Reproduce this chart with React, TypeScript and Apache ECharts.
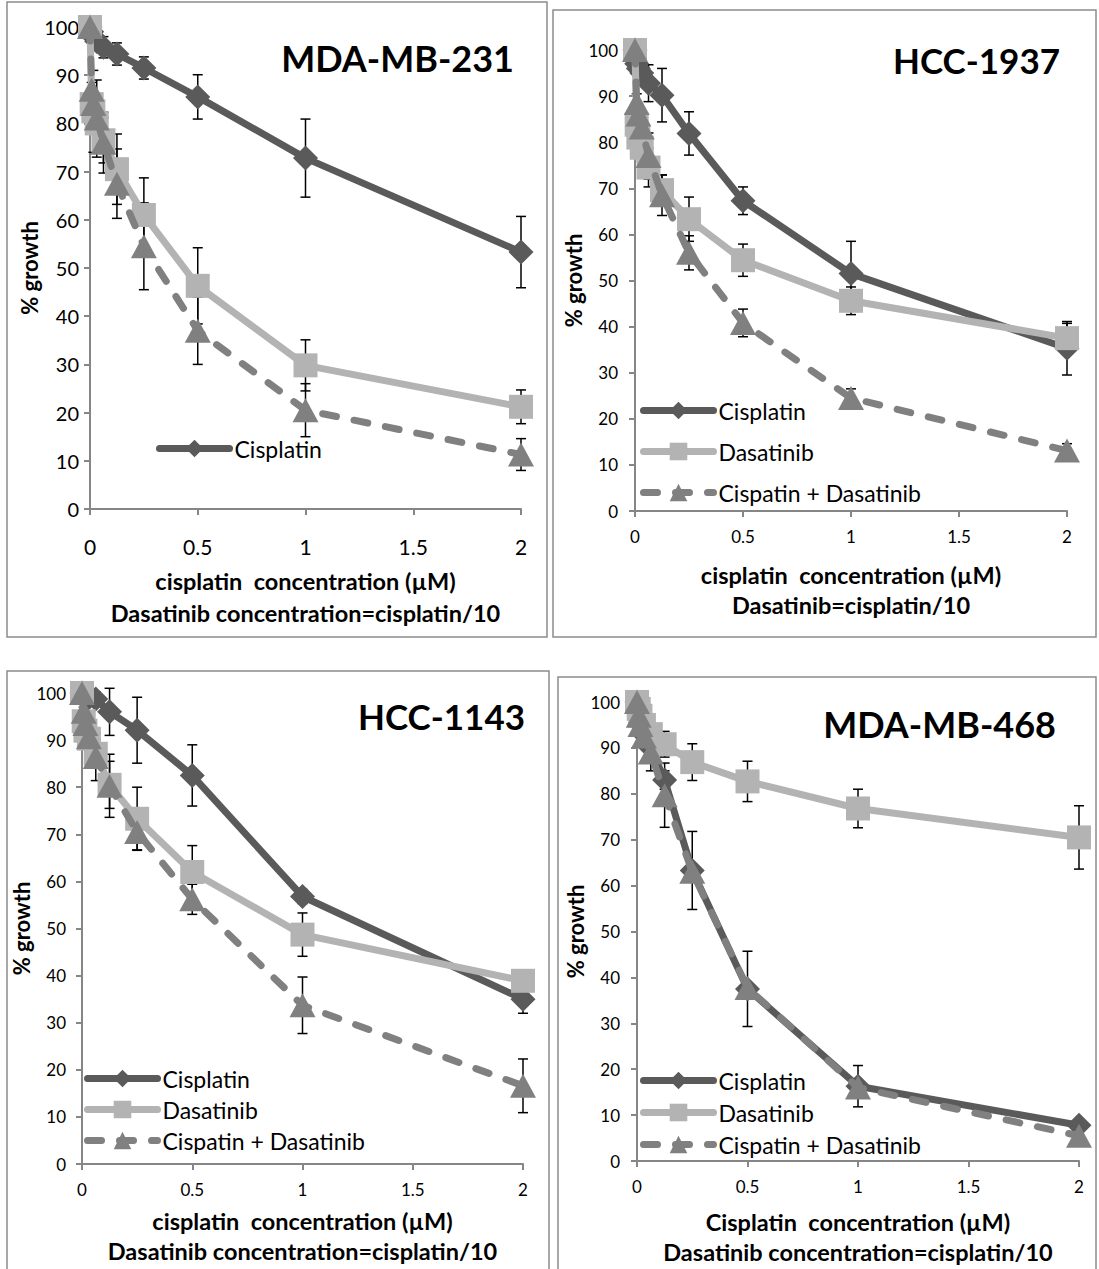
import React, { useEffect, useRef } from 'react';
import * as echarts from 'echarts';

// ---------- DATA ----------
const X = [0, 0.0078, 0.0156, 0.03125, 0.0625, 0.125, 0.25, 0.5, 1, 2];
const NAMES = ['Cisplatin', 'Dasatinib', 'Cispatin + Dasatinib'];
const TITLES = ['MDA-MB-231', 'HCC-1937', 'HCC-1143', 'MDA-MB-468'];

// MDA-MB-231
const mb231Cis = [100, 99, 98, 97, 95.8, 94.4, 91.5, 85.5, 72.8, 53.3];
const mb231CisErr = [0, 0.5, 1, 1.5, 2.2, 2.3, 2.3, 4.6, 8.1, 7.4];
const mb231Das = [100, 84, 82.5, 80, 76.5, 70.5, 61, 46.3, 29.8, 21.2];
const mb231DasErr = [0, 1.5, 8.5, 2, 4.7, 7.3, 7.7, 7.9, 5.3, 3.5];
const mb231Combo = [100, 87, 84, 81, 76, 67.5, 54.5, 37, 20.5, 11.3];
const mb231ComboErr = [0, 1.5, 2, 8, 6.3, 7.2, 9, 7, 5.5, 3.3];

// HCC-1937
const hcc1937Cis = [100, 97, 96, 95, 92.8, 90.2, 81.9, 67.3, 51.5, 35.3];
const hcc1937CisErr = [0, 1, 1.5, 2, 4, 5.8, 4.7, 3, 7, 5.8];
const hcc1937Das = [100, 83.8, 81, 78.8, 74.5, 69.6, 63.3, 54.4, 45.6, 37.5];
const hcc1937DasErr = [0, 2, 2, 3, 4.2, 3.3, 4.8, 3.5, 3, 3.2];
const hcc1937Combo = [100, 88.5, 86, 83.2, 77, 68.5, 56, 40.8, 24.5, 13.1];
const hcc1937ComboErr = [0, 2, 2, 3, 5, 4.4, 3.7, 3, 2, 1.5];

// HCC-1143
const hcc1143Cis = [100, 99.5, 99.2, 99, 98.7, 96, 92.1, 82.5, 56.8, 35];
const hcc1143CisErr = [0, 0.5, 0.5, 1, 1.5, 5, 7, 6.5, 1.5, 3];
const hcc1143Das = [100, 94, 92, 90.3, 87.1, 80.5, 73.3, 62, 48.7, 38.9];
const hcc1143DasErr = [0, 1, 1.5, 2, 3, 5, 6.7, 5.6, 4.6, 1.5];
const hcc1143Combo = [100, 96, 93.4, 90.6, 86.4, 80.3, 70.5, 56.2, 33.7, 16.6];
const hcc1143ComboErr = [0, 1, 2, 2.5, 5, 6.7, 3.8, 3.2, 6, 5.7];

// MDA-MB-468
const mb468Cis = [100, 97.5, 95.5, 93, 90, 83, 63.3, 37.5, 16.3, 7.8];
const mb468CisErr = [0, 1, 1, 1.5, 2, 2, 8.5, 8.2, 4.5, 1];
const mb468Das = [100, 98.5, 97, 95, 93, 90.8, 86.9, 82.7, 76.8, 70.5];
const mb468DasErr = [0, 1, 1, 1.5, 2, 2.8, 4, 4.4, 4.2, 6.9];
const mb468Combo = [100, 97, 95, 92.5, 89, 79.7, 63, 37.7, 16, 5.5];
const mb468ComboErr = [0, 1, 1, 2, 4, 7, 1, 1, 1, 0.8];

const X_NAMES = [
  'cisplatin  concentration (µM)\nDasatinib concentration=cisplatin/10',
  'cisplatin  concentration (µM)\nDasatinib=cisplatin/10',
  'cisplatin  concentration (µM)\nDasatinib concentration=cisplatin/10',
  'Cisplatin  concentration (µM)\nDasatinib concentration=cisplatin/10',
];
const Y_NAME = '% growth';

const PANEL_DATA = [
  [[mb231Cis, mb231CisErr], [mb231Das, mb231DasErr], [mb231Combo, mb231ComboErr]],
  [[hcc1937Cis, hcc1937CisErr], [hcc1937Das, hcc1937DasErr], [hcc1937Combo, hcc1937ComboErr]],
  [[hcc1143Cis, hcc1143CisErr], [hcc1143Das, hcc1143DasErr], [hcc1143Combo, hcc1143ComboErr]],
  [[mb468Cis, mb468CisErr], [mb468Das, mb468DasErr], [mb468Combo, mb468ComboErr]],
];
const LEGEND_ITEMS = [['Cisplatin'], NAMES, NAMES, NAMES];

// ---------- LAYOUT / STYLE ----------
const FONT = 'Lato, "Open Sans", "DejaVu Sans", sans-serif';
const LAYOUT = [
  {
    grid: { left: 90, top: 27, width: 431, height: 482 },
    border: { x: 7, y: 2, width: 540, height: 635 },
    title: { x: 514, y: 58, size: 36 },
    yLabel: 20, yMargin: 11, xLabel: 21, xMargin: 27,
    xNameGap: 56, xNameLH: 32, yNameGap: 48,
    legend: { left: 156, top: 437, gap: 0 },
  },
  {
    grid: { left: 635, top: 50, width: 432, height: 461 },
    border: { x: 553, y: 10, width: 543, height: 627 },
    title: { x: 1060, y: 60, size: 35 },
    yLabel: 17, yMargin: 17, xLabel: 17, xMargin: 17,
    xNameGap: 49, xNameLH: 30, yNameGap: 48,
    legend: { left: 640, top: 399, gap: 18 },
  },
  {
    grid: { left: 82, top: 693, width: 441, height: 471 },
    border: { x: 7, y: 671, width: 542, height: 610 },
    title: { x: 525, y: 716, size: 35 },
    yLabel: 17, yMargin: 16, xLabel: 17, xMargin: 17,
    xNameGap: 42, xNameLH: 30, yNameGap: 43,
    legend: { left: 84, top: 1067, gap: 8 },
  },
  {
    grid: { left: 637, top: 702, width: 442, height: 459 },
    border: { x: 558, y: 677, width: 538, height: 600 },
    title: { x: 1056, y: 724, size: 36 },
    yLabel: 17, yMargin: 17, xLabel: 17, xMargin: 17,
    xNameGap: 46, xNameLH: 30, yNameGap: 41,
    legend: { left: 640, top: 1069, gap: 9 },
  },
];

const SERIES_STYLE = [
  { color: '#5a5a5a', symbol: 'diamond', size: [25, 25], type: 'solid' },
  { color: '#b3b3b3', symbol: 'rect', size: [24, 24], type: 'solid' },
  { color: '#808080', symbol: 'triangle', size: [26, 24], type: [14, 18] },
];

const AXIS_COLOR = '#868686';

function errRender(params: any, api: any) {
  const x = api.value(0);
  const lo = api.value(1);
  const hi = api.value(2);
  const a = api.coord([x, lo]);
  const b = api.coord([x, hi]);
  const w = 5;
  const style = { stroke: '#000', lineWidth: 1.5 };
  return {
    type: 'group',
    children: [
      { type: 'line', shape: { x1: a[0], y1: a[1], x2: b[0], y2: b[1] }, style },
      { type: 'line', shape: { x1: b[0] - w, y1: b[1], x2: b[0] + w, y2: b[1] }, style },
      { type: 'line', shape: { x1: a[0] - w, y1: a[1], x2: a[0] + w, y2: a[1] }, style },
    ],
  };
}

function buildOption() {
  const grid: any[] = [];
  const xAxis: any[] = [];
  const yAxis: any[] = [];
  const series: any[] = [];
  const legend: any[] = [];
  const graphic: any[] = [];

  LAYOUT.forEach((L, p) => {
    grid.push({ ...L.grid, containLabel: false });
    xAxis.push({
      type: 'value', gridIndex: p, min: 0, max: 2, interval: 0.5,
      axisLine: { show: true, onZero: false, lineStyle: { color: AXIS_COLOR, width: 2 } },
      axisTick: { show: true, length: 6, lineStyle: { color: AXIS_COLOR, width: 2 } },
      splitLine: { show: false },
      axisLabel: { color: '#000', fontSize: L.xLabel, fontFamily: FONT, margin: L.xMargin },
      name: X_NAMES[p], nameLocation: 'middle', nameGap: L.xNameGap,
      nameTextStyle: { color: '#000', fontWeight: 'bold', fontSize: 23.5, lineHeight: L.xNameLH, fontFamily: FONT },
    });
    yAxis.push({
      type: 'value', gridIndex: p, min: 0, max: 100, interval: 10,
      axisLine: { show: true, lineStyle: { color: AXIS_COLOR, width: 2 } },
      axisTick: { show: true, length: 6, lineStyle: { color: AXIS_COLOR, width: 2 } },
      splitLine: { show: false },
      axisLabel: { color: '#000', fontSize: L.yLabel, fontFamily: FONT, margin: L.yMargin },
      name: Y_NAME, nameLocation: 'middle', nameGap: L.yNameGap, nameRotate: 90,
      nameTextStyle: { color: '#000', fontWeight: 'bold', fontSize: 22, fontFamily: FONT },
    });

    PANEL_DATA[p].forEach(([vals, errs], s) => {
      const st = SERIES_STYLE[s];
      series.push({
        type: 'custom', name: 'err-' + p + '-' + s, xAxisIndex: p, yAxisIndex: p,
        renderItem: errRender, z: 1, clip: false,
        encode: { x: 0, y: [1, 2] },
        data: X.map((x, i) => [x, vals[i] - errs[i], vals[i] + errs[i]]).filter((_, i) => errs[i] > 0),
      });
      series.push({
        type: 'line', name: NAMES[s], xAxisIndex: p, yAxisIndex: p,
        data: X.map((x, i) => [x, vals[i]]),
        symbol: st.symbol, symbolSize: st.size, showSymbol: true, clip: false,
        z: 3 + s,
        lineStyle: { color: st.color, width: 7, type: st.type, cap: 'round' },
        itemStyle: { color: st.color, borderWidth: 0 },
        emphasis: { disabled: true },
      });
    });

    legend.push({
      data: LEGEND_ITEMS[p], orient: 'vertical', left: L.legend.left, top: L.legend.top,
      itemGap: L.legend.gap, itemWidth: 70, itemHeight: 22, padding: 0, selectedMode: false,
      textStyle: { color: '#000', fontSize: 23, fontFamily: FONT },
      lineStyle: { width: 7 },
    });

    graphic.push({
      type: 'rect', shape: { ...L.border }, silent: true,
      style: { fill: 'none', stroke: '#8c8c8c', lineWidth: 1.5 },
    });
    graphic.push({
      type: 'text', x: L.title.x, y: L.title.y, silent: true,
      style: {
        text: TITLES[p], fill: '#000', fontSize: L.title.size, fontWeight: 'bold', fontFamily: FONT,
        align: 'right', verticalAlign: 'middle',
      },
    });
  });

  return {
    animation: false,
    backgroundColor: '#ffffff',
    textStyle: { fontFamily: FONT },
    grid, xAxis, yAxis, series, legend, graphic,
  };
}

export default function App() {
  const ref = useRef<HTMLDivElement>(null);
  useEffect(() => {
    if (!ref.current) return;
    const chart = echarts.init(ref.current, undefined, { renderer: 'svg' });
    chart.setOption(buildOption() as any);
    return () => chart.dispose();
  }, []);
  return (
    <div
      ref={ref}
      style={{ position: 'absolute', left: 0, top: 0, width: 1099, height: 1269, background: '#fff' }}
    />
  );
}
